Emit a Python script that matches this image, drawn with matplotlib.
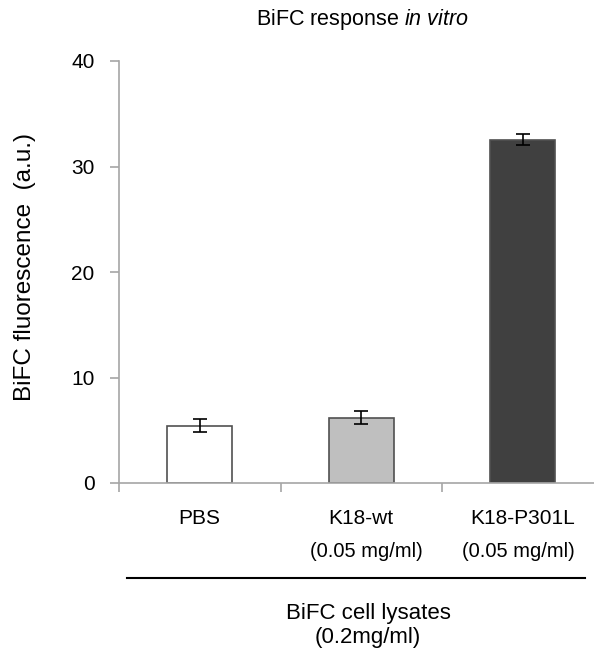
import matplotlib.pyplot as plt
import numpy as np

plt.rcParams['font.family'] = ['Liberation Sans', 'DejaVu Sans']
plt.rcParams['mathtext.fontset'] = 'custom'
plt.rcParams['mathtext.rm'] = 'Liberation Sans'
plt.rcParams['mathtext.it'] = 'Liberation Sans:italic'

categories = ['PBS', 'K18-wt', 'K18-P301L']
sublabels = ['', '(0.05 mg/ml)', '(0.05 mg/ml)']
values = [5.45, 6.2, 32.55]
errors = [0.62, 0.6, 0.55]
colors = ['#ffffff', '#bfbfbf', '#404040']

W, H = 594, 659
fig = plt.figure(figsize=(W / 100, H / 100), dpi=100)
x0, x1, y0, y1 = 119, 603.5, 483, 61
ax = fig.add_axes([x0 / W, 1 - y0 / H, (x1 - x0) / W, (y0 - y1) / H])

x = np.arange(len(categories)) + 0.5
ax.bar(x, values, width=0.4, color=colors, edgecolor='#505050', linewidth=1.2, zorder=2)
ax.errorbar(x, values, yerr=errors, fmt='none', ecolor='black', elinewidth=1.2,
            capsize=5, capthick=1.2, zorder=3)

ax.set_xlim(0, 3)
ax.set_ylim(0, 40)
ax.set_yticks([0, 10, 20, 30, 40])
ax.set_xticks([0, 1, 2, 3])
ax.set_xticklabels([])
for s in ['top', 'right']:
    ax.spines[s].set_visible(False)
for s in ['left', 'bottom']:
    ax.spines[s].set_color('#a6a6a6')
    ax.spines[s].set_linewidth(1.2)
ax.tick_params(axis='both', colors='#a6a6a6', length=6.5, width=1.2, direction='out')
ax.tick_params(axis='y', labelcolor='black', labelsize=15, pad=11)

# y label and title placed in figure pixels
fig.text(25 / W, 1 - 267 / H, 'BiFC fluorescence  (a.u.)', rotation=90,
         ha='center', va='center', fontsize=17.5)
fig.text(362 / W, 1 - 19 / H, 'BiFC response $\\it{in\\ vitro}$', ha='center', va='center', fontsize=15.5)

sub_shift = [0, 0.03, -0.03]
for xi, c, s, d in zip(x, categories, sublabels, sub_shift):
    ax.text(xi, -0.083, c, transform=ax.get_xaxis_transform(), ha='center', va='center', fontsize=15)
    if s:
        ax.text(xi + d, -0.1635, s, transform=ax.get_xaxis_transform(), ha='center', va='center', fontsize=14.5)

fig.add_artist(plt.Line2D([127 / W, 585 / W], [1 - 578 / H, 1 - 578 / H], color='black', linewidth=1.5))
fig.text(368 / W, 1 - 613 / H, 'BiFC cell lysates', ha='center', va='center', fontsize=16)
fig.text(368 / W, 1 - 638 / H, '(0.2mg/ml)', ha='center', va='center', fontsize=16)

fig.savefig('out.png', dpi=100)
